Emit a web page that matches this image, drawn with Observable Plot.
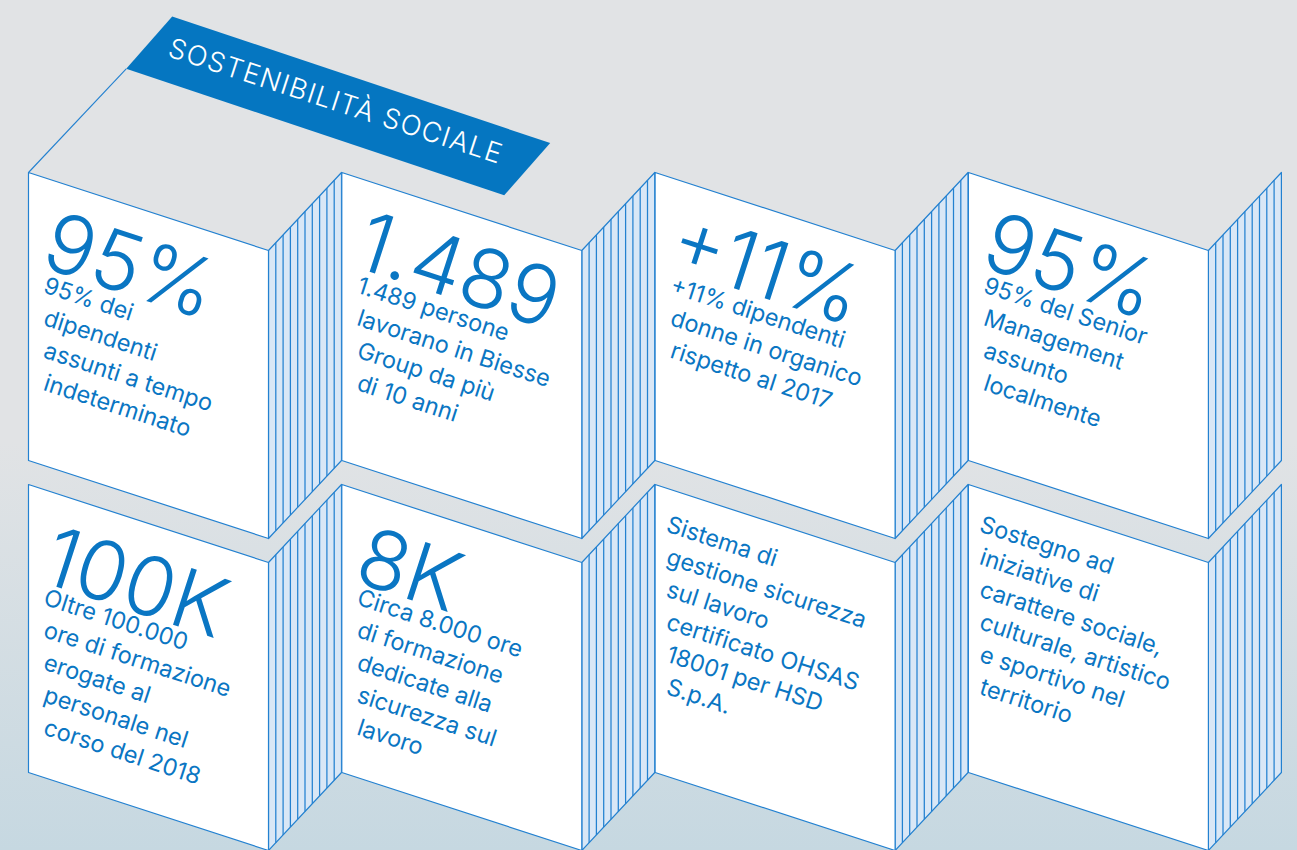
<!DOCTYPE html>
<html>
<head>
<meta charset="utf-8">
<script src="https://cdn.jsdelivr.net/npm/d3@7"></script>
<script src="https://cdn.jsdelivr.net/npm/@observablehq/plot@0.6"></script>
<style>
html, body { margin: 0; padding: 0; }
body {
  width: 1297px; height: 850px; overflow: hidden;
  background: linear-gradient(to bottom, #e1e3e5 0%, #e1e3e5 52%, #c6d8e1 100%);
  font-family: Inter, "Noto Sans", sans-serif;
}
#chart svg { display: block; }
</style>
</head>
<body>
<div id="chart"></div>
<script>
// ---- content ----
const bannerTitle = "SOSTENIBILITÀ SOCIALE";
const headlines = ["95%", "1.489", "+11%", "95%", "100K", "8K", "", ""];
const descriptions = [
  ["95% dei", "dipendenti", "assunti a tempo", "indeterminato"],
  ["1.489 persone", "lavorano in Biesse", "Group da più", "di 10 anni"],
  ["+11% dipendenti", "donne in organico", "rispetto al 2017"],
  ["95% del Senior", "Management", "assunto", "localmente"],
  ["Oltre 100.000", "ore di formazione", "erogate al", "personale nel", "corso del 2018"],
  ["Circa 8.000 ore", "di formazione", "dedicate alla", "sicurezza sul", "lavoro"],
  ["Sistema di", "gestione sicurezza", "sul lavoro", "certificato OHSAS", "18001 per HSD", "S.p.A."],
  ["Sostegno ad", "iniziative di", "carattere sociale,", "culturale, artistico", "e sportivo nel", "territorio"]
];

// ---- layout ----
const COLS = 4, X0 = 28, DX = 313.3, Y0 = 172, DY = 312;
const W = 240, S = 73, DROP = 78, H = 288, PAGES = 10;
const ANGLE = 18, LINE = 32.5;
const BLUE = "#0a76c3", EDGE = "#2381d0";

const cards = headlines.map((h, i) => {
  const col = i % COLS, row = Math.floor(i / COLS);
  return {i, h, desc: descriptions[i], col, row, x: X0 + col * DX, y: Y0 + row * DY};
});

const fronts = [], sides = [], stripes = [], bigText = [], smallText = [];
for (const c of cards) {
  [[0, 0], [W, DROP], [W, DROP + H], [0, H], [0, 0]]
    .forEach(([dx, dy]) => fronts.push({id: c.i, x: c.x + dx, y: c.y + dy}));
  [[W, DROP], [W + S, 0], [W + S, H], [W, DROP + H], [W, DROP]]
    .forEach(([dx, dy]) => sides.push({id: c.i, x: c.x + dx, y: c.y + dy}));
  for (let k = 1; k < PAGES; k++) {
    const x = c.x + W + k * S / PAGES;
    const yt = c.y + DROP - k * DROP / PAGES;
    stripes.push({x1: x, y1: yt, x2: x, y2: yt + H});
  }
  const hasBig = c.h !== "";
  if (hasBig) bigText.push({text: c.h, x: c.x + 28, y: c.y + (c.row ? 41 : 38)});
  const bx = c.x + (hasBig ? 19 : 15), by = c.y + (hasBig ? 104 : 31);
  c.desc.forEach((t, j) => smallText.push({text: t, x: bx, y: by + j * LINE}));
}

// banner (parallelogram continuing the top face of the first block)
const bannerBase = {x: 125.7, y: 68.3};
const bannerU = [378, 126.5], bannerV = [46, -52.3];
const banner = [[0, 0], [1, 0], [1, 1], [0, 1], [0, 0]].map(([a, b]) => ({
  id: "banner",
  x: bannerBase.x + a * bannerU[0] + b * bannerV[0],
  y: bannerBase.y + a * bannerU[1] + b * bannerV[1]
}));
const topEdge = [{x1: cards[0].x, y1: cards[0].y, x2: bannerBase.x, y2: bannerBase.y}];
const bannerText = [{text: bannerTitle, x: 172, y: 37}];

const chart = Plot.plot({
  width: 1297,
  height: 850,
  margin: 0,
  x: {type: "linear", domain: [0, 1297], range: [0, 1297], axis: null},
  y: {type: "linear", domain: [0, 850], range: [0, 850], axis: null},
  style: {background: "transparent", overflow: "hidden"},
  marks: [
    Plot.line(banner, {x: "x", y: "y", z: "id", fill: "#0576c1", stroke: "none"}),
    Plot.link(topEdge, {x1: "x1", y1: "y1", x2: "x2", y2: "y2", stroke: EDGE, strokeWidth: 1.1}),
    Plot.line(sides, {x: "x", y: "y", z: "id", fill: "#d9e7f6", stroke: "none"}),
    Plot.link(stripes, {x1: "x1", y1: "y1", x2: "x2", y2: "y2", stroke: EDGE, strokeWidth: 1.25}),
    Plot.line(sides, {x: "x", y: "y", z: "id", fill: "none", stroke: EDGE, strokeWidth: 1.2}),
    Plot.line(fronts, {x: "x", y: "y", z: "id", fill: "white", stroke: EDGE, strokeWidth: 1.2}),
    Plot.text(bigText, {
      x: "x", y: "y", text: "text", rotate: ANGLE, textAnchor: "start", lineAnchor: "top",
      fill: BLUE, fontSize: 82, fontWeight: 350, fontFamily: "Inter"
    }),
    Plot.text(smallText, {
      x: "x", y: "y", text: "text", rotate: ANGLE, textAnchor: "start", lineAnchor: "top",
      fill: BLUE, fontSize: 23.5, fontWeight: 400, fontFamily: "Inter"
    }),
    Plot.text(bannerText, {
      x: "x", y: "y", text: "text", rotate: ANGLE, textAnchor: "start", lineAnchor: "top",
      fill: "white", fontSize: 27.5, fontWeight: 300, fontFamily: "Inter"
    })
  ]
});
d3.select(chart).selectAll("text")
  .filter(function () { return this.textContent === bannerTitle; })
  .style("letter-spacing", "1.3px");
document.getElementById("chart").append(chart);
</script>
</body>
</html>
